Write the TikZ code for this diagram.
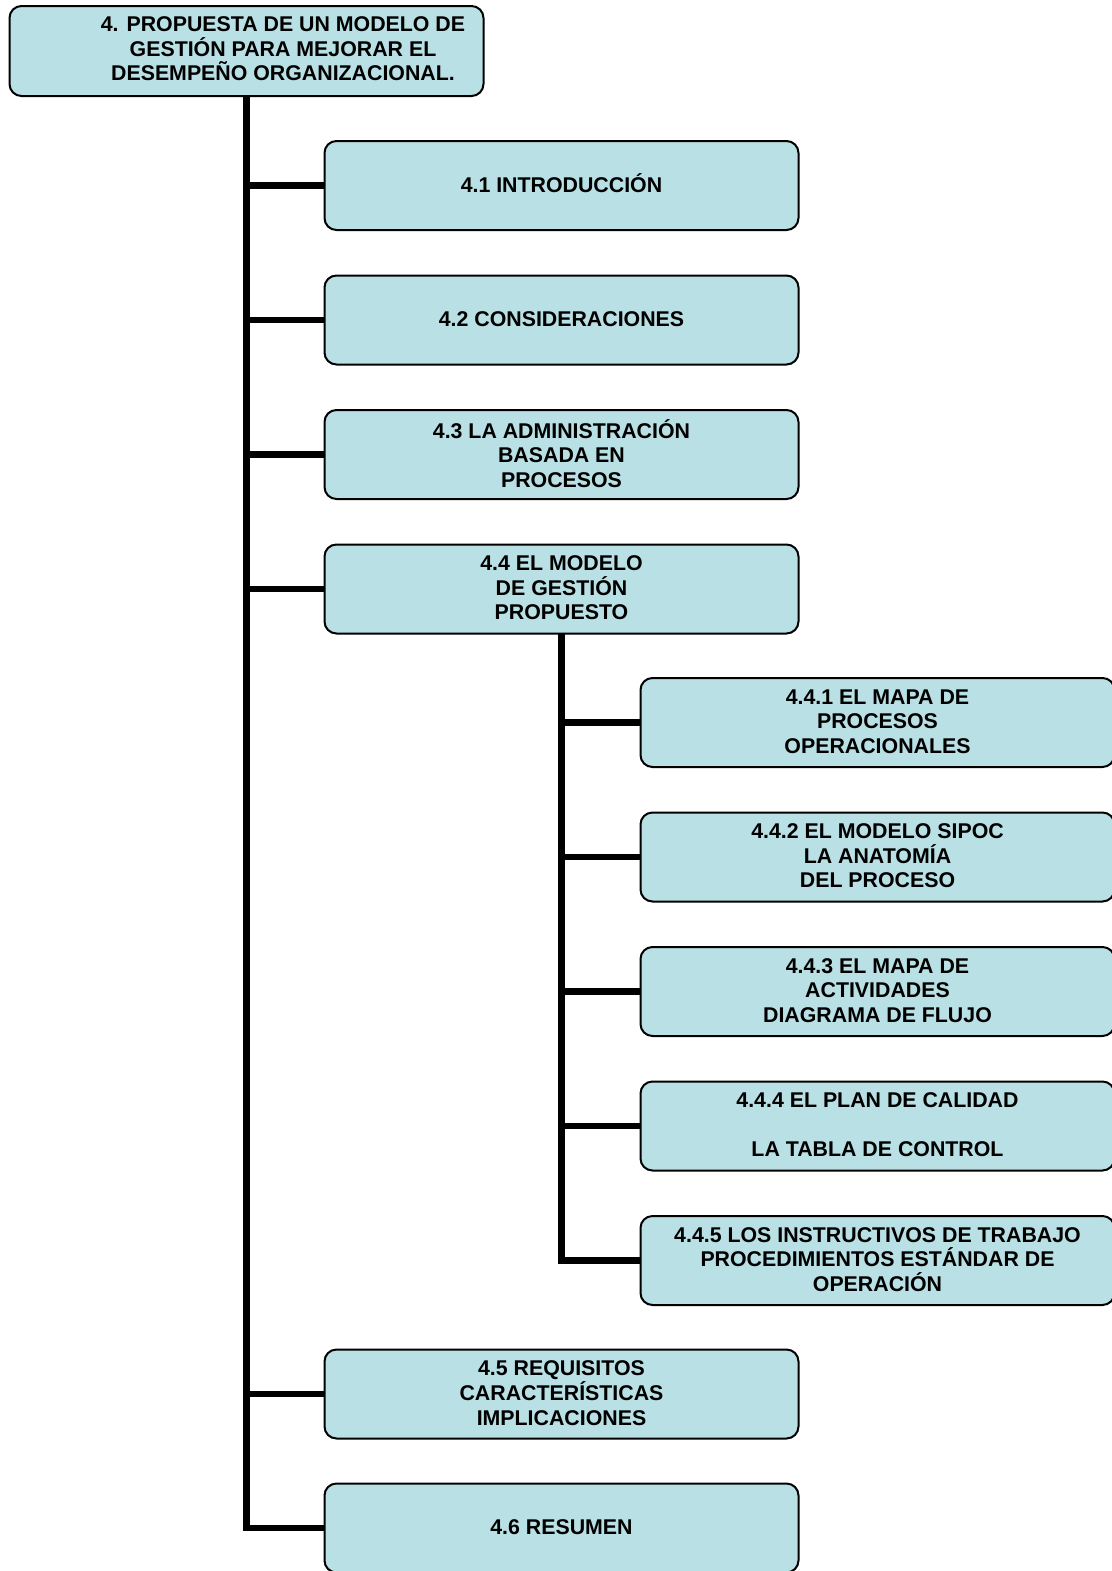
\documentclass[tikz,border=0pt]{standalone}
\usepackage{fontspec}
\setmainfont{Liberation Sans}
\definecolor{boxfill}{RGB}{185,224,228}
\begin{document}
\begin{tikzpicture}[x=0.75pt,y=-0.75pt,
  lbl/.style={align=center, font=\bfseries\fontsize{16}{18.4}\selectfont, inner sep=0pt},
  box/.style={lbl, draw=black, line width=1.5pt, fill=boxfill, rounded corners=9pt,
              minimum width=355.5pt, minimum height=66.75pt, text depth=5pt,
              execute at begin node=\rule{0pt}{15pt}},
  multi/.style={text depth=1.5pt},
  trunk/.style={line width=4.6pt, line join=miter}]
\useasboundingbox (0,0) rectangle (1112,1571);
\clip (0,0) rectangle (1112,1571);

% root box with its title set off to the right
\node[box, minimum width=355.5pt, minimum height=67.5pt] (top) at (246.5,51) {};
\node[lbl] (title) at (283,49) {4. PROPUESTA DE UN MODELO DE\\GESTIÓN PARA MEJORAR EL\\DESEMPEÑO ORGANIZACIONAL.};

% main branch trunk and connectors
\draw[trunk] (top.south) |- (561.5,1528) coordinate (end46);
\draw[trunk] (246.5,185.5) -- (561.5,185.5) coordinate (c41);
\draw[trunk] (246.5,320) -- (561.5,320) coordinate (c42);
\draw[trunk] (246.5,454.5) -- (561.5,454.5) coordinate (c43);
\draw[trunk] (246.5,589) -- (561.5,589) coordinate (c44);
\draw[trunk] (246.5,1394) -- (561.5,1394) coordinate (c45);

% sub-branch under 4.4
\draw[trunk] (561.5,589) |- (877.5,1260.5) coordinate (c445);
\draw[trunk] (561.5,722.5) -- (877.5,722.5) coordinate (c441);
\draw[trunk] (561.5,857) -- (877.5,857) coordinate (c442);
\draw[trunk] (561.5,991.5) -- (877.5,991.5) coordinate (c443);
\draw[trunk] (561.5,1126) -- (877.5,1126) coordinate (c444);

% second level
\node[box] (b41) at (c41) {4.1 INTRODUCCIÓN};
\node[box] (b42) at (c42) {4.2 CONSIDERACIONES};
\node[box, multi] (b43) at (c43) {4.3 LA ADMINISTRACIÓN\\BASADA EN\\PROCESOS};
\node[box, multi] (b44) at (c44) {4.4 EL MODELO\\DE GESTIÓN\\PROPUESTO};
\node[box, multi] (b45) at (c45) {4.5 REQUISITOS\\CARACTERÍSTICAS\\IMPLICACIONES};
\node[box] (b46) at (end46) {4.6 RESUMEN};

% third level
\node[box, multi] (b441) at (c441) {4.4.1 EL MAPA DE\\PROCESOS\\OPERACIONALES};
\node[box, multi] (b442) at (c442) {4.4.2 EL MODELO SIPOC\\LA ANATOMÍA\\DEL PROCESO};
\node[box, multi] (b443) at (c443) {4.4.3 EL MAPA DE\\ACTIVIDADES\\DIAGRAMA DE FLUJO};
\node[box, multi] (b444) at (c444) {4.4.4 EL PLAN DE CALIDAD\\[18.4pt]LA TABLA DE CONTROL};
\node[box, multi] (b445) at (c445) {4.4.5 LOS INSTRUCTIVOS DE TRABAJO\\PROCEDIMIENTOS ESTÁNDAR DE\\OPERACIÓN};
\end{tikzpicture}
\end{document}
